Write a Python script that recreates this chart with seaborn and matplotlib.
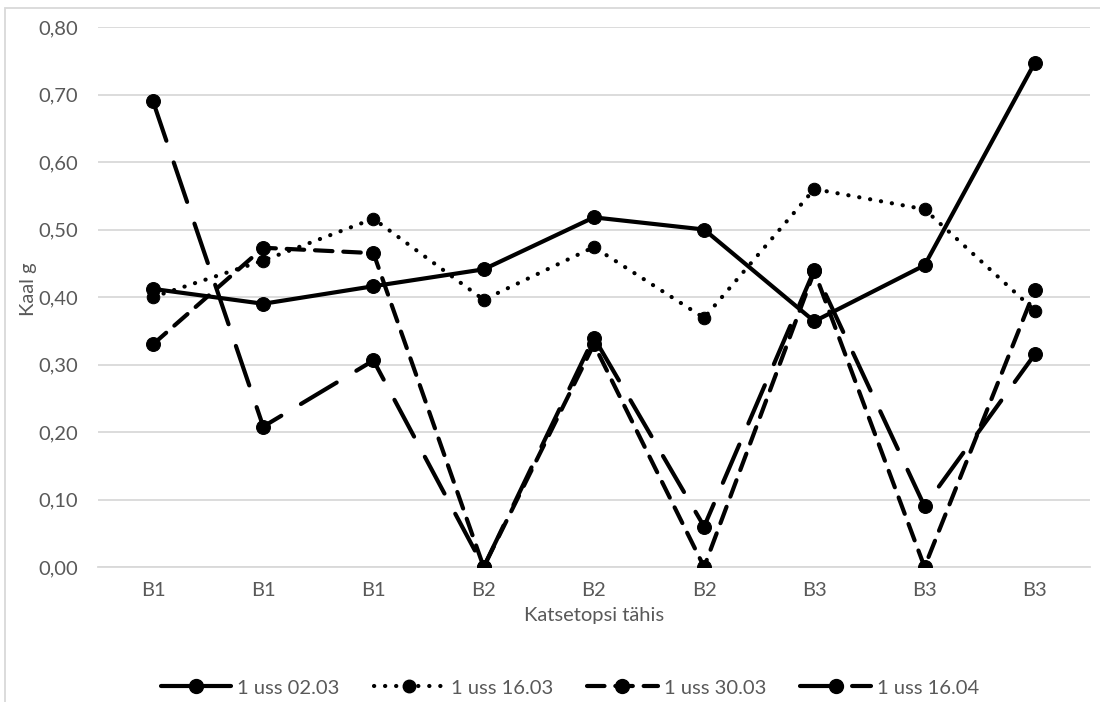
import matplotlib
matplotlib.use("Agg")
import matplotlib.pyplot as plt
import seaborn as sns
import numpy as np
from matplotlib.patches import Rectangle
from matplotlib.lines import Line2D

# Sample identifiers along the x axis
categories = ["B1", "B1", "B1", "B2", "B2", "B2", "B3", "B3", "B3"]

# Weight (g) of each test tube at four dates
uss_0203 = [0.412, 0.390, 0.416, 0.441, 0.518, 0.500, 0.364, 0.447, 0.747]
uss_1603 = [0.400, 0.454, 0.516, 0.396, 0.474, 0.369, 0.560, 0.530, 0.380]
uss_3003 = [0.330, 0.473, 0.465, 0.000, 0.330, 0.000, 0.438, 0.000, 0.410]
uss_1604 = [0.690, 0.208, 0.306, 0.000, 0.340, 0.060, 0.440, 0.090, 0.315]

series_names = ["1 uss 02.03", "1 uss 16.03", "1 uss 30.03", "1 uss 16.04"]
series_values = [uss_0203, uss_1603, uss_3003, uss_1604]
y_ticks = [0.0, 0.1, 0.2, 0.3, 0.4, 0.5, 0.6, 0.7, 0.8]

line_styles = ["-", (0, (0.05, 2.6)), (0, (4.2, 2.6)), (0, (10, 5.5))]
legend_styles = ["-", (0, (0.05, 2.6)), (0, (4.2, 2.6)), (0, (9, 3.5))]
marker_sizes = [10, 9, 10, 10]

sns.set_theme(style="white")
plt.rcParams["font.family"] = ["Lato", "DejaVu Sans"]

TEXT = "#595959"
GRID = "#d9d9d9"

fig = plt.figure(figsize=(11, 7.02), dpi=100)
ax = fig.add_axes([0.089, 0.1923, 0.9018, 0.7692])

positions = np.arange(len(categories))
handles = []
for name, vals, ls, lls, ms in zip(series_names, series_values, line_styles,
                                   legend_styles, marker_sizes):
    sns.lineplot(x=positions, y=vals, ax=ax, color="black", linewidth=3.0,
                 linestyle=ls, marker="o", markersize=ms,
                 markeredgecolor="black", markerfacecolor="black",
                 dash_capstyle="round", solid_capstyle="round",
                 sort=False, legend=False, zorder=3)
    handles.append(Line2D([0], [0], color="black", linewidth=3.0, linestyle=lls,
                          dash_capstyle="round", solid_capstyle="round",
                          marker="o", markersize=ms, label=name))

ax.set_xlim(-0.5, len(categories) - 0.5)
ax.set_ylim(0, 0.8)
ax.set_xticks(positions)
ax.set_xticklabels(categories)
ax.set_yticks(y_ticks)
ax.set_yticklabels([f"{t:.2f}".replace(".", ",") for t in y_ticks])
ax.tick_params(axis="both", length=0, labelsize=14.5, colors=TEXT)
ax.tick_params(axis="x", pad=11)
ax.tick_params(axis="y", pad=14)

ax.grid(axis="y", color=GRID, linewidth=1.3, zorder=0)
ax.set_axisbelow(True)
for side in ["top", "right", "left"]:
    ax.spines[side].set_visible(False)
ax.spines["bottom"].set_color(GRID)
ax.spines["bottom"].set_linewidth(1.3)

# Axis titles
fig.text(0.5405, 1 - 616 / 702, "Katsetopsi tähis", fontsize=14.5, color=TEXT,
         ha="center", va="center")
fig.text(0.026, 0.588, "Kaal g", rotation=90, fontsize=14.5, color=TEXT,
         ha="center", va="center")

fig.legend(handles=handles, loc="center", bbox_to_anchor=(570 / 1100, 0.02),
           ncol=4, frameon=False, fontsize=14.5, handlelength=3.5,
           columnspacing=1.7, handletextpad=0.3, labelcolor=TEXT)

# Chart-area border
fig.patches.append(Rectangle((5 / 1100, -0.1), 1.2, 1.0 - 8 / 702 + 0.1,
                             transform=fig.transFigure, fill=False,
                             edgecolor=GRID, linewidth=1.3))

fig.savefig("out.png", dpi=100)
